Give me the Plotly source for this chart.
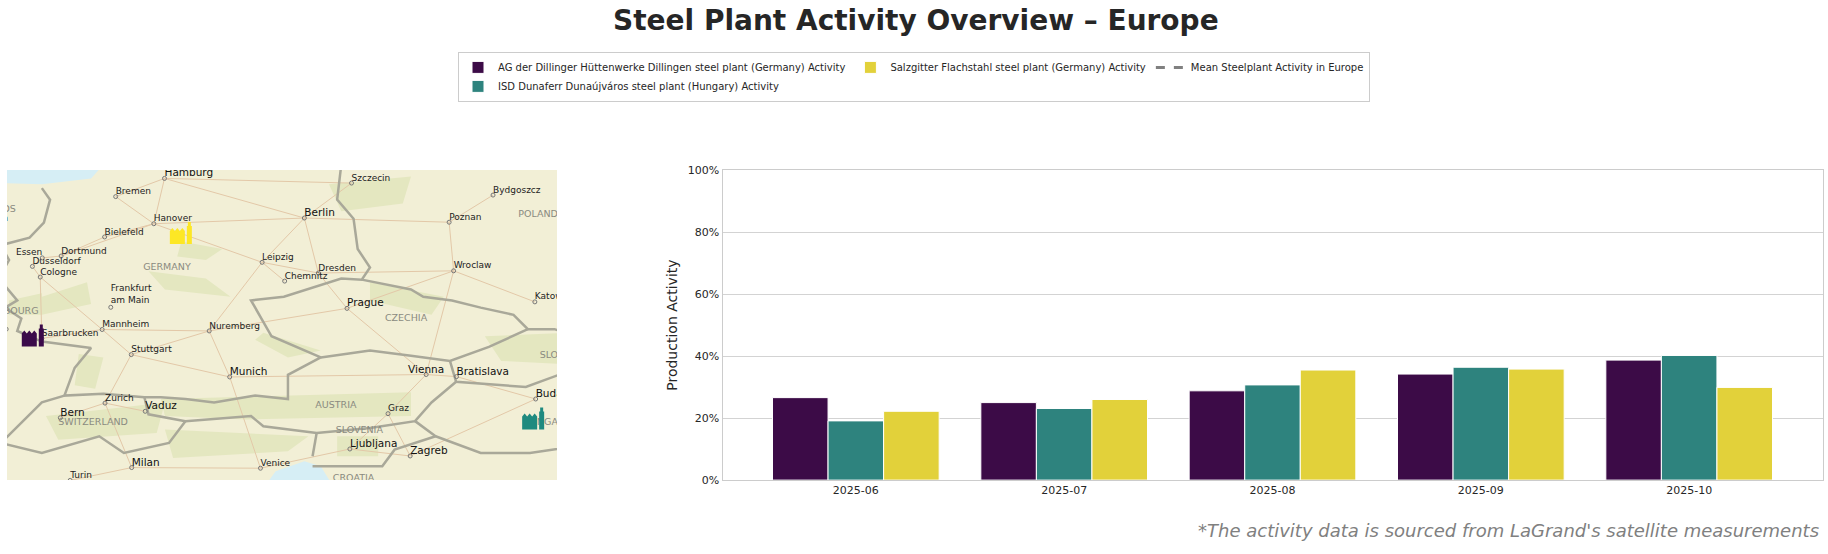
import math
import plotly.graph_objects as go

months = ["2025-06", "2025-07", "2025-08", "2025-09", "2025-10"]
dillingen = [26.6, 25.0, 28.8, 34.2, 38.7]
dunaferr = [19.1, 23.1, 30.7, 36.4, 40.2]
salzgitter = [22.2, 26.0, 35.5, 35.8, 29.9]
mean_activity = [None, None, None, None, None]
y_ticks = [0, 20, 40, 60, 80, 100]
y_labels = ["0%", "20%", "40%", "60%", "80%", "100%"]

name_d = "AG der Dillinger Hüttenwerke Dillingen steel plant (Germany) Activity"
name_i = "ISD Dunaferr Dunaújváros steel plant (Hungary) Activity"
name_s = "Salzgitter Flachstahl steel plant (Germany) Activity"
name_m = "Mean Steelplant Activity in Europe"

# lon, lat, text placement
cities = {
    "Hamburg": (9.99, 53.55, "middle right"), "Bremen": (8.80, 53.08, "middle right"),
    "Hanover": (9.73, 52.37, "middle right"), "Berlin": (13.40, 52.52, "middle right"),
    "Szczecin": (14.55, 53.43, "middle right"), "Bydgoszcz": (18.0, 53.12, "middle right"),
    "Poznan": (16.93, 52.41, "middle right"), "Bielefeld": (8.53, 52.02, "middle right"),
    "Dortmund": (7.47, 51.51, "middle right"), "Essen": (7.01, 51.46, "middle left"),
    "Dusseldorf": (6.77, 51.23, "middle right"), "Cologne": (6.96, 50.94, "middle right"),
    "Leipzig": (12.37, 51.34, "middle right"), "Dresden": (13.74, 51.05, "middle right"),
    "Chemnitz": (12.92, 50.83, "middle right"), "Wroclaw": (17.04, 51.11, "middle right"),
    "Katowice": (19.02, 50.26, "middle right"), "Mannheim": (8.47, 49.49, "middle right"),
    "Saarbrucken": (7.0, 49.24, "middle right"), "Stuttgart": (9.18, 48.78, "middle right"),
    "Nuremberg": (11.08, 49.45, "middle right"), "Prague": (14.44, 50.08, "middle right"),
    "Munich": (11.58, 48.14, "middle right"), "Vienna": (16.37, 48.21, "middle center"),
    "Bratislava": (17.11, 48.15, "middle right"), "Zurich": (8.54, 47.38, "middle right"),
    "Vaduz": (9.52, 47.14, "middle right"), "Bern": (7.45, 46.95, "middle right"),
    "Graz": (15.44, 47.07, "middle right"), "Ljubljana": (14.51, 46.02, "middle right"),
    "Zagreb": (15.98, 45.81, "middle right"), "Milan": (9.19, 45.46, "middle right"),
    "Venice": (12.33, 45.44, "middle right"), "Turin": (7.69, 45.07, "middle right"),
    "Budapest": (19.04, 47.5, "middle right"), "Amsterdam": (4.9, 52.37, "middle right"),
    "Luxembourg": (6.13, 49.5, "middle left"),
}
frankfurt = (8.68, 50.11)
big_cities = ["Hamburg", "Berlin", "Munich", "Vienna", "Prague", "Bratislava", "Milan", "Bern", "Vaduz", "Ljubljana", "Zagreb", "Budapest"]

countries = {
    "GERMANY": (10.05, 51.2), "CZECHIA": (15.88, 49.8), "AUSTRIA": (14.17, 47.3),
    "SWITZERLAND": (8.25, 46.8), "SLOVENIA": (14.74, 46.56), "HUNGARY": (19.3, 46.8),
    "POLAND": (19.1, 52.6), "SLOVAKIA": (19.7, 48.75), "NETHERLANDS": (5.5, 52.75),
    "LUXEMBOURG": (6.1, 50.0), "CROATIA": (14.6, 45.13),
}

borders = [
    [(7.0,53.3),(7.2,53.0),(7.05,52.4),(6.7,52.0),(6.0,51.8),(6.2,51.4),(6.0,51.0),(6.1,50.7),(6.4,50.3),(6.1,50.1),(6.5,49.8),(6.4,49.45),(7.0,49.15),(7.6,49.05),(8.2,48.97),(7.8,48.4),(7.55,47.6),(8.5,47.65),(9.5,47.55),(9.9,47.55),(10.5,47.5),(11.2,47.4),(12.2,47.6),(13.0,47.5),(13.0,48.2),(13.8,48.7),(12.6,49.3),(12.1,50.3),(12.9,50.4),(14.3,50.9),(14.8,50.87),(15.0,51.2),(14.7,51.7),(14.6,52.5),(14.2,53.0),(14.3,53.9)],
    [(14.8,50.87),(16.0,50.6),(16.3,50.4),(17.0,50.3),(17.7,50.1),(18.5,49.9),(18.85,49.5),(19.5,49.5),(20.0,49.3)],
    [(13.8,48.7),(15.0,48.9),(16.0,48.75),(16.95,48.6),(17.9,49.0),(18.85,49.5)],
    [(16.95,48.6),(17.1,48.0),(18.8,47.85),(19.6,48.2),(20.0,48.2)],
    [(17.1,48.0),(16.5,47.4),(16.1,46.85),(15.0,46.65),(13.7,46.5),(12.4,46.7),(12.1,47.0),(10.5,46.85),(9.6,47.05),(9.5,47.55)],
    [(10.5,46.85),(10.1,46.2),(9.0,45.9),(8.4,46.4),(7.0,45.9),(6.0,46.2),(7.0,47.4),(7.55,47.6)],
    [(16.1,46.85),(16.6,46.4),(15.6,46.0),(15.3,45.5),(13.6,45.5)],
    [(16.6,46.4),(17.7,45.9),(18.9,45.9),(20.0,46.1)],
    [(13.7,46.5),(13.6,45.8)],
]

water = [
    [(5.5,54.5),(5.5,53.45),(7.0,53.4),(8.2,53.55),(8.5,53.9),(8.9,54.5)],
    [(12.5,45.0),(12.7,45.35),(13.4,45.65),(13.8,45.5),(14.0,45.1),(14.1,45.0)],
]

greens = [
    [(10.4,51.9),(11.4,51.7),(11.0,51.4),(10.3,51.5)],
    [(9.6,51.1),(11.0,50.9),(11.6,50.4),(10.0,50.6)],
    [(7.9,48.8),(8.5,48.7),(8.3,47.8),(7.8,47.9)],
    [(12.4,49.4),(13.8,48.9),(13.0,48.7),(12.2,49.2)],
    [(9.9,47.5),(13.0,47.6),(16.0,47.7),(16.0,47.0),(12.0,46.9),(10.0,47.0)],
    [(7.1,47.0),(10.0,47.4),(9.8,46.5),(7.4,46.3)],
    [(10.0,46.6),(13.5,46.4),(13.0,45.95),(10.2,45.75)],
    [(7.0,50.4),(8.1,50.8),(8.2,50.2),(7.0,49.9)],
    [(15.0,50.8),(16.8,50.4),(16.5,49.9),(15.0,50.3)],
    [(17.8,49.3),(19.9,49.4),(19.9,48.5),(18.2,48.6)],
    [(14.0,53.4),(16.0,53.6),(15.8,52.9),(14.3,52.7)],
    [(6.2,50.3),(7.0,50.5),(7.0,49.9),(6.2,49.9)],
    [(14.2,46.4),(15.2,46.4),(15.2,45.8),(14.2,45.8)],
]

roads = [
    ("Hamburg","Bremen"),("Hamburg","Hanover"),("Bremen","Hanover"),("Hanover","Bielefeld"),("Bielefeld","Dortmund"),
    ("Dortmund","Essen"),("Essen","Dusseldorf"),("Dusseldorf","Cologne"),("Hanover","Berlin"),("Hamburg","Berlin"),
    ("Berlin","Szczecin"),("Berlin","Poznan"),("Poznan","Bydgoszcz"),("Poznan","Wroclaw"),("Berlin","Leipzig"),
    ("Berlin","Dresden"),("Leipzig","Dresden"),("Leipzig","Chemnitz"),("Dresden","Wroclaw"),("Wroclaw","Katowice"),
    ("Dresden","Prague"),("Prague","Vienna"),("Vienna","Bratislava"),("Bratislava","Budapest"),("Vienna","Graz"),
    ("Graz","Ljubljana"),("Graz","Zagreb"),("Ljubljana","Zagreb"),("Ljubljana","Venice"),("Venice","Milan"),("Milan","Turin"),
    ("Milan","Zurich"),("Zurich","Bern"),("Zurich","Stuttgart"),("Vaduz","Zurich"),("Stuttgart","Munich"),("Munich","Nuremberg"),
    ("Nuremberg","Prague"),("Nuremberg","Stuttgart"),("Nuremberg","Leipzig"),("Mannheim","Stuttgart"),("Mannheim","Cologne"),
    ("Mannheim","Saarbrucken"),("Munich","Vienna"),("Munich","Venice"),("Hanover","Leipzig"),("Dortmund","Hanover"),
    ("Cologne","Saarbrucken"),("Nuremberg","Mannheim"),("Prague","Wroclaw"),("Vienna","Wroclaw"),("Budapest","Zagreb"),("Hamburg","Szczecin"),
]

plants = [("Dillingen", 6.73, 49.35, "#3b0a4a"), ("Dunaferr", 18.93, 46.96, "#1f8a7f"), ("Salzgitter", 10.34, 52.15, "#fde725")]


def merc(lat):
    return math.degrees(math.log(math.tan(math.pi / 4 + math.radians(lat) / 2)))


def poly_xy(lines, close=False):
    xs, ys = [], []
    for line in lines:
        pts = line + [line[0]] if close else line
        xs += [p[0] for p in pts] + [None]
        ys += [merc(p[1]) for p in pts] + [None]
    return xs, ys


W, H = 1828, 554
fig = go.Figure()

# bars
colors = ["#3c0b47", "#2e837e", "#e2d13a"]
for nm, vals, col, grp in [(name_d, dillingen, colors[0], "a"), (name_i, dunaferr, colors[1], "a"), (name_s, salzgitter, colors[2], "b")]:
    fig.add_trace(go.Bar(x=months, y=vals, name=nm, marker=dict(color=col, line=dict(color="white", width=1)),
                         legendgroup=grp, xaxis="x", yaxis="y"))
fig.add_trace(go.Scatter(x=months, y=mean_activity, name=name_m, mode="lines", legendgroup="c",
                         line=dict(color="#808080", width=3, dash="dash"), xaxis="x", yaxis="y"))

# map
mapkw = dict(xaxis="x2", yaxis="y2", showlegend=False, hoverinfo="skip")
gx, gy = poly_xy(greens, True)
fig.add_trace(go.Scatter(x=gx, y=gy, mode="lines", fill="toself", fillcolor="#e4e7c0", line=dict(width=0), **mapkw))
wx, wy = poly_xy(water, True)
fig.add_trace(go.Scatter(x=wx, y=wy, mode="lines", fill="toself", fillcolor="#d6eef5", line=dict(width=0), **mapkw))
rx, ry = poly_xy([[cities[a][:2], cities[b][:2]] for a, b in roads])
fig.add_trace(go.Scatter(x=rx, y=ry, mode="lines", line=dict(color="#e3c8a8", width=1), **mapkw))
bx, by = poly_xy(borders)
fig.add_trace(go.Scatter(x=bx, y=by, mode="lines", line=dict(color="#a9a899", width=2.5), **mapkw))

marker_style = dict(symbol="circle-open", size=4, color="#777777")
all_names = list(cities)
fig.add_trace(go.Scatter(x=[cities[c][0] for c in all_names], y=[merc(cities[c][1]) for c in all_names],
                         mode="markers", marker=marker_style, **mapkw))
fig.add_trace(go.Scatter(x=[frankfurt[0]], y=[merc(frankfurt[1])], mode="markers", marker=marker_style, **mapkw))

small = [c for c in cities if c not in big_cities]
label_lift = 0.2
fig.add_trace(go.Scatter(x=[cities[c][0] for c in small], y=[merc(cities[c][1]) + label_lift for c in small], text=small,
                         mode="text", textposition=[cities[c][2] for c in small],
                         textfont=dict(family="DejaVu Sans", size=9, color="#222222"), **mapkw))
fig.add_trace(go.Scatter(x=[cities[c][0] for c in big_cities], y=[merc(cities[c][1]) + label_lift for c in big_cities], text=big_cities,
                         mode="text", textposition=[cities[c][2] for c in big_cities],
                         textfont=dict(family="DejaVu Sans", size=10.5, color="#111111"), **mapkw))
fig.add_trace(go.Scatter(x=[frankfurt[0]], y=[merc(frankfurt[1]) + 0.1], text=["Frankfurt<br>am Main"], mode="text",
                         textposition="top right", textfont=dict(family="DejaVu Sans", size=9, color="#222222"), **mapkw))
fig.add_trace(go.Scatter(x=[v[0] for v in countries.values()], y=[merc(v[1]) for v in countries.values()],
                         text=list(countries), mode="text", textfont=dict(family="DejaVu Sans", size=9.5, color="#8a8a80"), **mapkw))

# factory icons, in pixels around each plant
hall = "M -9 -12 L -9 1 L -6.5 4 L -4 1 L -1.5 4 L 1 1 L 3.5 4 L 6 1 L 6 -12 Z M 8 -12 L 8 6 L 9 6 L 9 10 L 12 10 L 12 6 L 13 6 L 13 -12 Z"
dots = "".join(f"M {x} {y} h 1.5 v 1.5 h -1.5 Z " for x in (-6.5, -3, 0.5, 4) for y in (-9, -6, -3))
shapes = [dict(type="rect", xref="x2 domain", yref="y2 domain", x0=0, x1=1, y0=0, y1=1, fillcolor="#f2efd6",
               line=dict(width=0), layer="below")]
for _, lon, lat, col in plants:
    my = merc(lat)
    shapes.append(dict(type="path", xref="x2", yref="y2", xsizemode="pixel", ysizemode="pixel", xanchor=lon, yanchor=my,
                       path=hall, fillcolor=col, line=dict(width=0), layer="above"))
    shapes.append(dict(type="path", xref="x2", yref="y2", xsizemode="pixel", ysizemode="pixel", xanchor=lon, yanchor=my,
                       path=dots, fillcolor="rgba(255,255,255,0.75)", line=dict(width=0), layer="above"))

axis_font = dict(family="DejaVu Sans", size=11, color="#262626")
fig.update_layout(
    width=W, height=H, margin=dict(l=0, r=0, t=0, b=0), paper_bgcolor="white", plot_bgcolor="white",
    barmode="group", bargap=0.2, bargroupgap=0.0, font=dict(family="DejaVu Sans"),
    title=dict(text="<b>Steel Plant Activity Overview – Europe</b>", x=0.501, xanchor="center", y=0.963, yanchor="middle",
               font=dict(family="DejaVu Sans", size=28, color="#262626")),
    xaxis=dict(domain=[722.5 / W, 1822.5 / W], type="category", range=[-0.64, 4.64], showgrid=False, showline=True, mirror=True,
               linecolor="#cccccc", linewidth=1, ticks="", tickfont=axis_font, anchor="y"),
    yaxis=dict(domain=[1 - 485.5 / H, 1 - 168 / H], range=[0, 100], tickmode="array", tickvals=y_ticks, ticktext=y_labels,
               showgrid=True, gridcolor="#d3d3d3", gridwidth=1, showline=True, mirror=True, linecolor="#cccccc", zeroline=False,
               ticks="", tickfont=axis_font, anchor="x",
               title=dict(text="Production Activity", font=dict(family="DejaVu Sans", size=14, color="#262626"), standoff=6)),
    xaxis2=dict(domain=[7 / W, 557 / W], range=[6.15, 19.56], visible=False, anchor="y2"),
    yaxis2=dict(domain=[1 - 485.5 / H, 1 - 168 / H], range=[50.61, 64.01], visible=False, anchor="x2"),
    legend=dict(orientation="h", traceorder="grouped", x=0.5, xanchor="center", y=1 - 47 / H, yanchor="top",
                bordercolor="#cccccc", borderwidth=1, bgcolor="white", tracegroupgap=10,
                font=dict(family="DejaVu Sans", size=10, color="#262626")),
    annotations=[dict(text="<i>*The activity data is sourced from LaGrand's satellite measurements</i>", xref="paper", yref="paper",
                      x=1821 / W, y=1 - 537 / H, xanchor="right", yanchor="middle", showarrow=False,
                      font=dict(family="DejaVu Sans", size=18, color="#808080"))],
    shapes=shapes,
)
fig.write_html("out.html", post_script="document.body.style.margin='0';", config={"displayModeBar": False})
